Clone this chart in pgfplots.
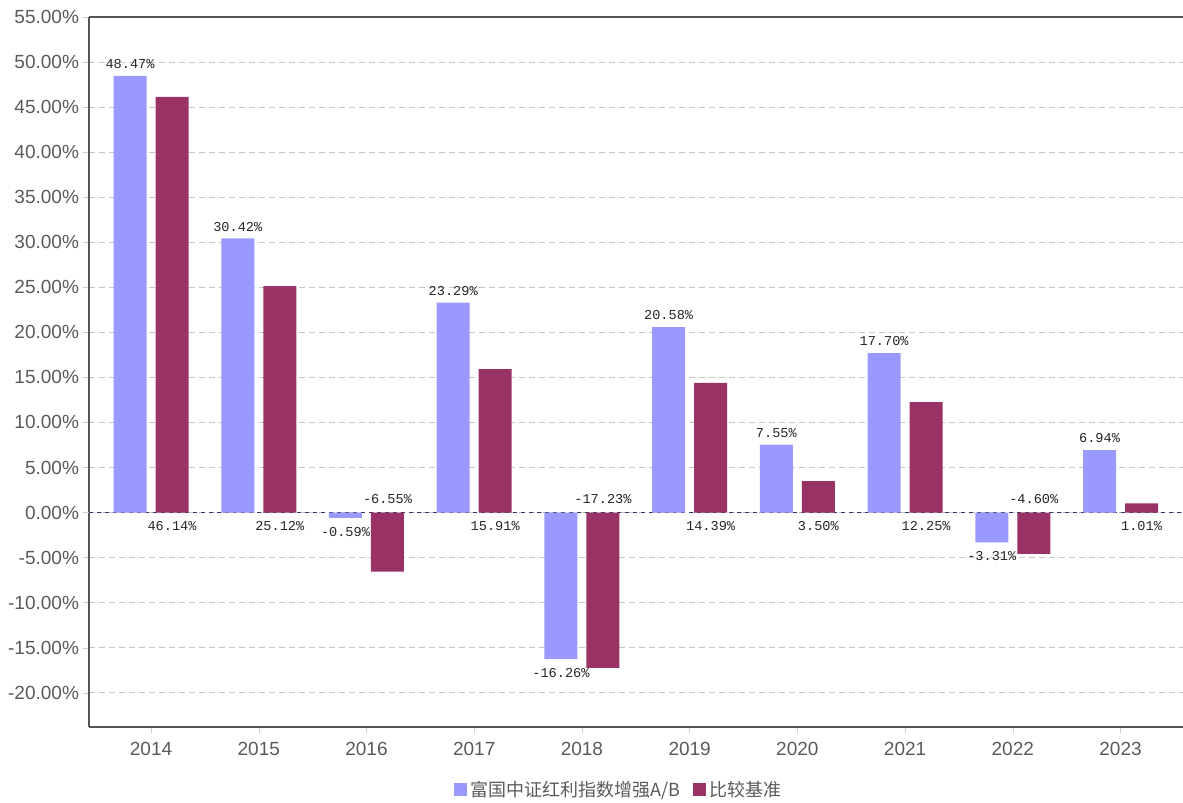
\documentclass[border=0pt]{standalone}
\usepackage{pgfplots}
\pgfplotsset{compat=1.18}
\usepackage{fontspec}
\setmainfont{Liberation Sans}
\newfontfamily\cjk{Noto Sans CJK SC}
\newfontfamily\lab{Liberation Mono}

\definecolor{cA}{HTML}{9999FF}
\definecolor{cB}{HTML}{993366}
\definecolor{tickgray}{HTML}{5A5A5A}
\definecolor{axgray}{HTML}{555555}
\definecolor{zeroline}{HTML}{333366}

\begin{document}
\begin{tikzpicture}
\begin{axis}[
    name=ax,
    scale only axis,
    width=547pt, height=355pt,
    xmin=-0.576, xmax=9.58,
    ymin=-23.8, ymax=55,
    axis x line=box, axis y line=left,
    axis line style={-, color=axgray, line width=0.8pt},
    xtick={0,...,9},
    xticklabels={2014,2015,2016,2017,2018,2019,2020,2021,2022,2023},
    xtick pos=bottom,
    ytick={-20,-15,...,55},
    yticklabel={\pgfmathprintnumber[fixed,fixed zerofill,precision=2]{\tick}\%},
    /pgf/number format/assume math mode=true,
    tick label style={font=\fontsize{9.5}{11}\selectfont, color=tickgray},
    xticklabel style={yshift=-1pt},
    yticklabel style={xshift=1.5pt},
    major tick length=3pt,
    tick style={color=gray!40},
    tick align=outside,
    ymajorgrids,
    major grid style={densely dashed, color=gray!45, line width=0.4pt},
    extra y ticks={0},
    extra y tick labels={},
    extra y tick style={grid=major, major grid style={dashed, dash pattern=on 2pt off 2pt, color=zeroline, line width=0.6pt}},
    legend style={at={(0.485,-0.0887)}, anchor=center, draw=none, fill=none,
        legend columns=-1, font=\cjk\fontsize{9}{11}\selectfont, text=tickgray,
        /tikz/every even column/.append style={column sep=4pt}},
    legend image code/.code={\fill[#1] (0pt,-3pt) rectangle (6.5pt,3.5pt);},
    nodes near coords style={font=\lab\fontsize{6.8}{8}\selectfont, color=black!85},
]
% 富国中证红利指数增强A/B
\addplot[ybar, bar width=16.5pt, bar shift=-10.5pt, fill=cA, draw=none]
coordinates {
 (0,48.47) (1,30.42) (2,-0.59) (3,23.29) (4,-16.26)
 (5,20.58) (6,7.55) (7,17.70) (8,-3.31) (9,6.94)
};
\addlegendentry{富国中证红利指数增强A/B}
% 比较基准
\addplot[ybar, bar width=16.5pt, bar shift=10.5pt, fill=cB, draw=none]
coordinates {
 (0,46.14) (1,25.12) (2,-6.55) (3,15.91) (4,-17.23)
 (5,14.39) (6,3.50) (7,12.25) (8,-4.60) (9,1.01)
};
\addlegendentry{比较基准}
% labels of the fund, at the end of its bars
\addplot[only marks, mark=none, forget plot, xshift=-10.5pt,
    point meta=explicit symbolic, nodes near coords,
    every node near coord/.append style={anchor=south, yshift=0pt}]
coordinates {
 (0,48.47) [48.47\%]
 (1,30.42) [30.42\%]
 (3,23.29) [23.29\%]
 (5,20.58) [20.58\%]
 (6,7.55) [7.55\%]
 (7,17.70) [17.70\%]
 (9,6.94) [6.94\%]
};
\addplot[only marks, mark=none, forget plot, xshift=-10.5pt,
    point meta=explicit symbolic, nodes near coords,
    every node near coord/.append style={anchor=north, yshift=-1pt}]
coordinates {
 (2,-0.59) [-0.59\%]
 (4,-16.26) [-16.26\%]
 (8,-3.31) [-3.31\%]
};
% labels of the benchmark, placed at the zero line
\addplot[only marks, mark=none, forget plot, xshift=10.5pt,
    point meta=explicit symbolic, nodes near coords,
    every node near coord/.append style={anchor=north, yshift=-1pt}]
coordinates {
 (0,0) [46.14\%]
 (1,0) [25.12\%]
 (3,0) [15.91\%]
 (5,0) [14.39\%]
 (6,0) [3.50\%]
 (7,0) [12.25\%]
 (9,0) [1.01\%]
};
\addplot[only marks, mark=none, forget plot, xshift=10.5pt,
    point meta=explicit symbolic, nodes near coords,
    every node near coord/.append style={anchor=south, yshift=1pt}]
coordinates {
 (2,0) [-6.55\%]
 (4,0) [-17.23\%]
 (8,0) [-4.60\%]
};
\end{axis}
\pgfresetboundingbox
\path[use as bounding box] ([xshift=-44.5pt,yshift=-38pt]ax.south west) rectangle ([yshift=8.5pt]ax.north east);
\end{tikzpicture}
\end{document}
